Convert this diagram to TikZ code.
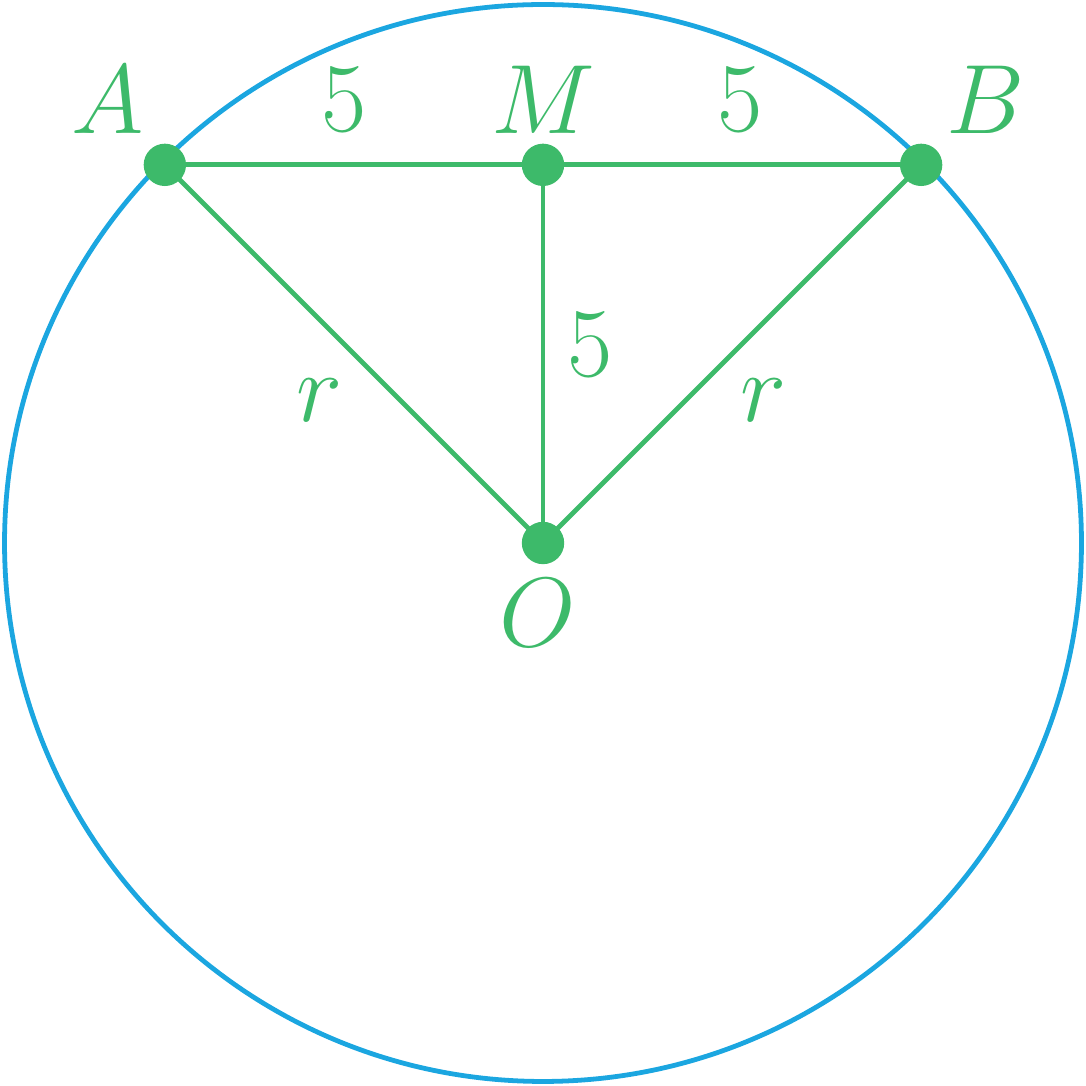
\documentclass[tikz,border=0pt]{standalone}
\usetikzlibrary{positioning,backgrounds}
\definecolor{chordgreen}{HTML}{3DBA6A}
\definecolor{circleblue}{HTML}{1BA6E0}
\tikzset{
    pt/.style={circle, fill=chordgreen, minimum size=0.56cm, inner sep=0pt},
    seg/.style={line width=1.8pt, color=chordgreen},
    lbl/.style={text=chordgreen, inner sep=0pt, font=\Huge, scale=1.49}
}

\begin{document}
\begin{tikzpicture}
            \useasboundingbox (-7.18,-7.18) rectangle (7.18,7.18);
            \begin{scope}

                \node [pt] (A) at (-5,5) {};
                \node [pt] (M) at (0,5) {};
                \node [pt] (B) at (5,5) {};
                \node [pt] (O) at (0,0) {};

                \begin{scope}[on background layer]
                    \draw [line width=1.8pt, color=circleblue] (O.center) circle (7.12);
                    \draw [seg] (A.center) -- (M.center) -- (B.center);
                    \draw [seg] (A.center) -- (O.center) -- (B.center);
                    \draw [seg] (M.center) -- (O.center);
                \end{scope}

                \node [lbl] (labA) at (-5.75,5.86) {$A$};
                \node [lbl] (labM) at (0,5.86) {$M$};
                \node [lbl] (labB) at (5.85,5.86) {$B$};
                \node [lbl] (labO) at (-0.07,-0.93) {$O$};

                \node [lbl] (labAM) at (-2.63,5.86) {$5$};
                \node [lbl] (labMB) at (2.61,5.86) {$5$};
                \node [lbl] (labMO) at (0.62,2.62) {$5$};
                \node [lbl] (labAO) at (-2.95,1.89) {$r$};
                \node [lbl] (labBO) at (2.91,1.89) {$r$};

            \end{scope}
        \end{tikzpicture}
\end{document}
